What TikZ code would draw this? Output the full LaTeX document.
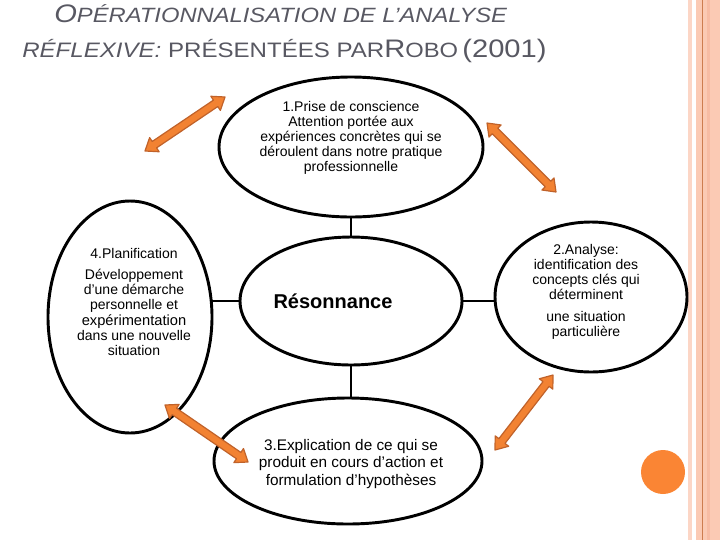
\documentclass[tikz,border=0pt]{standalone}
\usepackage{fontspec}
\setmainfont{Liberation Sans}
\newfontfamily\titlefont[FakeStretch=1.15]{Liberation Sans}
\usetikzlibrary{calc,shapes.geometric}
\definecolor{arrfill}{RGB}{242,130,50}
\definecolor{arrdraw}{RGB}{192,98,42}
\definecolor{dotcol}{RGB}{250,133,52}
\definecolor{titlecol}{RGB}{88,88,98}
\definecolor{salmon}{RGB}{251,202,180}
\definecolor{salmondk}{RGB}{247,188,164}
\definecolor{salmonlt}{RGB}{252,214,198}
\definecolor{stripeline}{RGB}{205,125,80}
\def\arrhl{8.5pt}\def\arrhw{6.4pt}\def\arrsw{2.9pt}
\newcommand\dblarrow[2]{%
  \filldraw[arrowsty] (#1)
    -- ($(#1)!\arrhl!(#2)!\arrhw!90:(#2)$)
    -- ($(#1)!\arrhl!(#2)!\arrsw!90:(#2)$)
    -- ($(#2)!\arrhl!(#1)!\arrsw!-90:(#1)$)
    -- ($(#2)!\arrhl!(#1)!\arrhw!-90:(#1)$)
    -- (#2)
    -- ($(#2)!\arrhl!(#1)!\arrhw!90:(#1)$)
    -- ($(#2)!\arrhl!(#1)!\arrsw!90:(#1)$)
    -- ($(#1)!\arrhl!(#2)!\arrsw!-90:(#2)$)
    -- ($(#1)!\arrhl!(#2)!\arrhw!-90:(#2)$)
    -- cycle;}
\newcommand\bigT{\fontsize{19}{21}\selectfont}
\newcommand\smallT{\fontsize{15.5}{17}\selectfont}
\newcommand\smallTb{\fontsize{15.7}{17}\selectfont}
\tikzset{
  arrowsty/.style={fill=arrfill, draw=arrdraw, line width=0.9pt, line join=round},
  ell/.style={ellipse, draw=black, line width=2.2pt, inner sep=0pt, outer sep=0pt, fill=white},
  link/.style={draw=black, line width=2.2pt},
  txt/.style={align=center, inner sep=0pt, font=\fontsize{10.5}{11.25}\selectfont},
  titlest/.style={inner sep=0pt, anchor=base west, text=titlecol, font=\titlefont},
}
\begin{document}
\begin{tikzpicture}[x=0.75pt,y=-0.75pt]
\useasboundingbox (0,0) rectangle (720,540);
% right border stripes
\fill[salmonlt] (688,0) rectangle (692,540);
\fill[salmon] (696,0) rectangle (720,540);
\fill[salmondk] (707,0) rectangle (710,540);
\fill[stripeline] (702,0) rectangle (703.2,540);
% title
\node[titlest] (title1) at (54,22) {\itshape{\bigT O}{\smallT PÉRATIONNALISATION DE L’ANALYSE}};
\node[titlest] (title2) at (22,57) {\smallTb{\itshape RÉFLEXIVE:} PRÉSENTÉES PAR};
\node[titlest] (title3) at (384,57) {{\bigT R}{\smallT OBO} {\bigT (2001)}};
% ellipses
\node[ell, minimum width=198pt, minimum height=105pt] (n1) at (351,147) {};
\node[ell, minimum width=166.5pt, minimum height=96pt] (res) at (351,301) {};
\node[ell, minimum width=123pt, minimum height=174pt] (n4) at (130,317) {};
\node[ell, minimum width=144pt, minimum height=112.5pt] (n2) at (591,297) {};
\node[ell, minimum width=201pt, minimum height=94.5pt] (n3) at (348,461) {};
% links
\draw[link] (n1.south) -- (res.north);
\draw[link] (res.west) -- (res.west -| n4.east);
\draw[link] (res.east) -- (res.east -| n2.west);
\draw[link] (res.south) -- (res.south |- n3.north);
% texts
\node[txt] (t1) at (351,138) {1.Prise de conscience\\Attention portée aux\\expériences concrètes qui se\\déroulent dans notre pratique\\professionnelle};
\node[inner sep=0pt, font=\bfseries\fontsize{15}{17}\selectfont] (restxt) at (333,301) {Résonnance};
\node[txt] (t4) at (134,302) {4.Planification\\[4pt]Développement\\d’une démarche\\personnelle et\\[1pt]{\fontsize{11}{12}\selectfont expérimentation}\\dans une nouvelle\\situation};
\node[txt] (t2) at (586,292) {2.Analyse:\\identification des\\concepts clés qui\\déterminent\\[5pt]une situation\\particulière};
\node[txt, font=\fontsize{11.5}{13}\selectfont] (t3) at (351,464) {3.Explication de ce qui se\\produit en cours d’action et\\formulation d’hypothèses};
% arrows
\coordinate (a1s) at (145,151); \coordinate (a1e) at (225,97);
\coordinate (a2s) at (487,123); \coordinate (a2e) at (556,192);
\coordinate (a3s) at (165,405); \coordinate (a3e) at (248,462);
\coordinate (a4s) at (553,375); \coordinate (a4e) at (495,450);
\dblarrow{a1s}{a1e}
\dblarrow{a2s}{a2e}
\dblarrow{a3s}{a3e}
\dblarrow{a4s}{a4e}
% dot
\node[circle, fill=dotcol, inner sep=0pt, minimum size=33pt] (dot) at (663,472) {};
\end{tikzpicture}
\end{document}
